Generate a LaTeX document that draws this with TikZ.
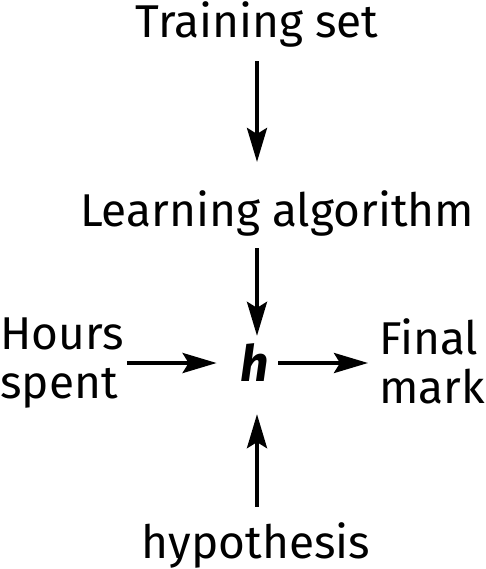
\documentclass[tikz,border=0pt]{standalone}
\usepackage{fontspec}
\setmainfont{Fira Sans}
\usepackage{tikz}
\usetikzlibrary{arrows.meta}

\begin{document}
\begin{tikzpicture}[
x=1pt,y=-1pt,
lbl/.style={font=\fontsize{46}{49}\selectfont, inner sep=0pt, align=center},
arr/.style={-{Stealth[length=34pt,width=20pt,inset=6pt]}, line width=3.8pt}
]
\useasboundingbox (0,0) rectangle (485,569);
\node[lbl] (train) at (257,24) {Training set};
\node[lbl] (learn) at (277,213) {Learning algorithm};
\node[lbl, font=\fontsize{50}{52}\selectfont\bfseries\itshape] (h) at (255,363) {h};
\node[lbl, align=left, anchor=west] (hours) at (0,363) {Hours\\spent};
\node[lbl, align=left, anchor=west] (final) at (379,361) {Final\\mark};
\node[lbl] (hyp) at (256,545) {hypothesis};

\draw[arr, shorten <=14pt, shorten >=28pt] (train.south) -- (train.south |- learn.north);
\draw[arr, shorten <=12pt, shorten >=8pt] (train.south |- learn.south) -- (train.south |- h.north);
\draw[arr, shorten <=3pt, shorten >=24pt] (hours.east |- h.west) -- (h.west);
\draw[arr, shorten <=9pt, shorten >=11pt] (h.east) -- (final.west |- h.east);
\draw[arr, shorten <=15pt, shorten >=32pt] (train.south |- hyp.north) -- (train.south |- h.south);
\end{tikzpicture}
\end{document}
